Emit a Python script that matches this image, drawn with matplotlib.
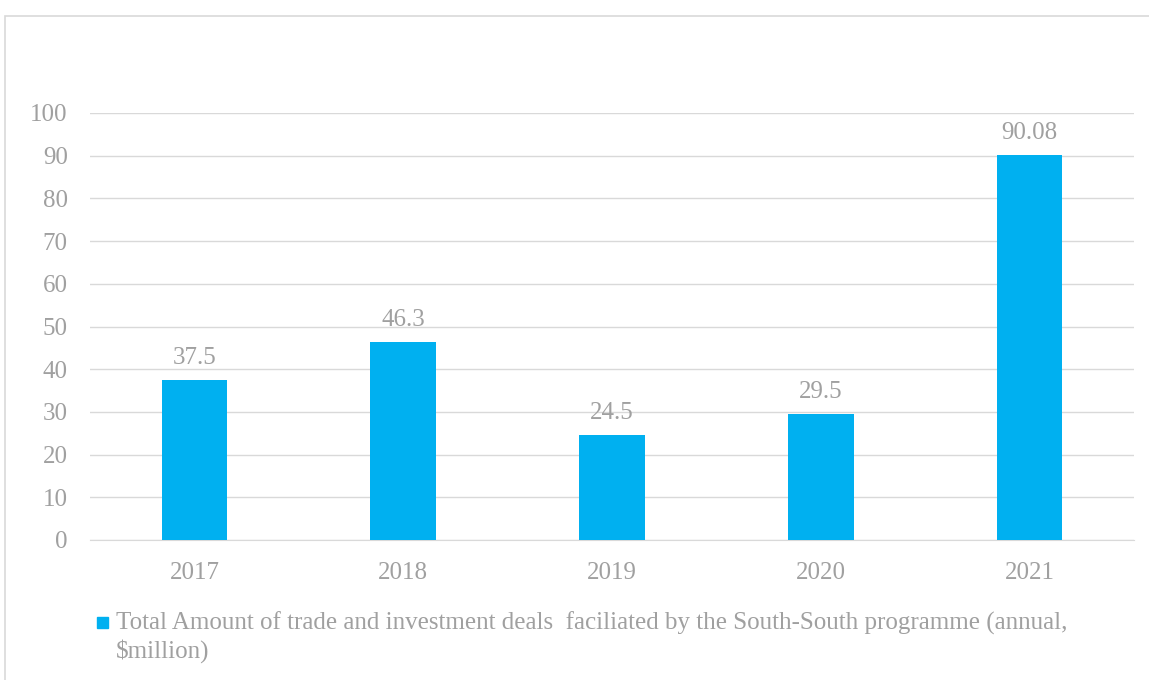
import matplotlib.pyplot as plt
from matplotlib.patches import Rectangle

# Chart data
years = ['2017', '2018', '2019', '2020', '2021']
amounts = [37.5, 46.3, 24.5, 29.5, 90.08]
amount_labels = ['37.5', '46.3', '24.5', '29.5', '90.08']
legend_text = ('Total Amount of trade and investment deals  faciliated by the South-South programme (annual,\n'
               '$million)')

text_color = '#A0A0A0'
grid_color = '#D9D9D9'
bar_color = '#00B0F0'
fs = 18

plt.rcParams['font.family'] = ['Liberation Serif', 'DejaVu Serif']

fig = plt.figure(figsize=(11.49, 6.8), dpi=100)

# outer chart frame (cut off at the right and bottom)
fig.patches.append(Rectangle((5 / 1149, -0.1), 1.2, 1.1 - 16 / 680,
                             transform=fig.transFigure, fill=False,
                             edgecolor=grid_color, linewidth=1.2))

ax = fig.add_axes([90 / 1149, 1 - 540 / 680, 1044 / 1149, 427 / 680])
x = range(len(years))
bars = ax.bar(x, amounts, width=0.315, color=bar_color, zorder=3)

ax.set_xlim(-0.5, len(years) - 0.5)
ax.set_ylim(0, 100)
ax.set_yticks(range(0, 101, 10))
ax.set_xticks(list(x))
ax.set_xticklabels(years)
ax.grid(axis='y', color=grid_color, linewidth=1, zorder=0)
for side in ['top', 'right', 'left']:
    ax.spines[side].set_visible(False)
ax.spines['bottom'].set_color(grid_color)
ax.tick_params(axis='both', length=0, labelsize=fs, labelcolor=text_color)
ax.tick_params(axis='y', pad=16)
ax.tick_params(axis='x', pad=16)

for b, lab in zip(bars, amount_labels):
    ax.annotate(lab, (b.get_x() + b.get_width() / 2, b.get_height()),
                xytext=(0, 16), textcoords='offset points',
                ha='center', va='center', fontsize=fs, color=text_color)

# legend
fig.patches.append(Rectangle((97 / 1149, 1 - 628 / 680), 11 / 1149, 11 / 680,
                             transform=fig.transFigure, color=bar_color))
fig.text(116 / 1149, 1 - 637 / 680, legend_text, ha='left', va='center',
         fontsize=fs, color=text_color, linespacing=1.2)

fig.savefig('out.png', dpi=100, facecolor='white')
